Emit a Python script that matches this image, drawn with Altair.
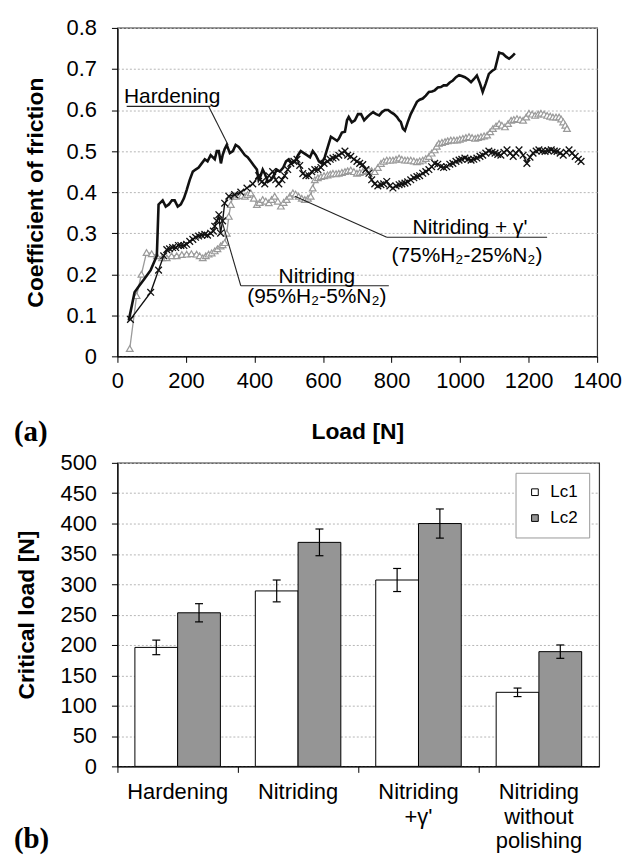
import altair as alt
import pandas as pd

# ---------------- (a) coefficient of friction vs load ----------------
hard_load = [33, 50, 62, 80, 97, 115, 120, 132, 141, 150, 159, 167, 176, 185, 194, 202, 211, 220, 228, 237,
             246, 255, 263, 272, 284, 290, 296, 302, 307, 313, 319, 328, 337, 345, 354, 363, 372, 380, 389, 398,
             407, 412, 418, 424, 430, 439, 448, 456, 465, 474, 484, 492, 500, 509, 518, 527, 535, 544, 553, 562,
             570, 579, 588, 596, 605, 614, 623, 632, 641, 646, 655, 664, 670, 675, 684, 693, 702, 711, 720, 729,
             738, 746, 755, 764, 772, 781, 790, 798, 807, 816, 822, 827, 833, 839, 847, 856, 865, 874, 882, 891,
             900, 909, 918, 926, 935, 944, 952, 961, 970, 979, 988, 997, 1005, 1014, 1023, 1032, 1040, 1049, 1058, 1066,
             1075, 1084, 1093, 1102, 1108, 1114, 1120, 1125, 1134, 1143, 1151, 1160]
hard_cof = [.087, .156, .17, .19, .21, .245, .37, .38, .365, .37, .38, .38, .365, .37, .385, .405, .43, .45, .455, .46,
            .47, .48, .475, .49, .48, .5, .5, .47, .49, .505, .515, .495, .5, .515, .51, .5, .49, .485, .475, .465,
            .455, .43, .44, .455, .445, .425, .43, .44, .455, .45, .46, .475, .48, .47, .475, .49, .5, .495, .49, .485,
            .5, .49, .475, .47, .485, .51, .535, .53, .525, .53, .545, .547, .575, .583, .57, .575, .59, .59, .575, .583,
            .59, .595, .59, .587, .595, .6, .6, .595, .59, .583, .575, .571, .555, .55, .57, .59, .605, .62, .625, .628,
            .635, .644, .645, .648, .655, .656, .66, .66, .667, .672, .68, .685, .683, .68, .675, .668, .675, .684, .665, .644,
            .665, .688, .695, .7, .72, .74, .738, .737, .73, .725, .73, .738]

nit_load = [38, 97, 120, 135, 144, 152, 161, 170, 178, 185, 194, 202, 211, 220, 228, 237, 246, 255, 263, 272,
            280, 284, 290, 296, 301, 307, 313, 325, 342, 360, 378, 395, 412, 421, 430, 442, 453, 462, 471, 480,
            488, 497, 506, 515, 524, 532, 541, 550, 559, 567, 576, 585, 594, 603, 613, 621, 629, 638, 646, 655,
            664, 672, 681, 690, 699, 707, 716, 725, 734, 742, 751, 760, 769, 777, 786, 795, 804, 813, 822, 830,
            839, 847, 856, 865, 874, 882, 891, 900, 909, 917, 926, 935, 944, 952, 961, 970, 979, 988, 997, 1005,
            1014, 1023, 1032, 1040, 1049, 1058, 1066, 1075, 1084, 1093, 1102, 1110, 1119, 1128, 1137, 1146, 1155, 1163, 1172, 1184,
            1195, 1204, 1213, 1222, 1230, 1239, 1248, 1257, 1266, 1275, 1283, 1292, 1301, 1310, 1318, 1327, 1336, 1345, 1353]
nit_cof = [.09, .156, .21, .245, .26, .262, .265, .265, .27, .27, .27, .273, .28, .285, .29, .293, .295, .297, .295, .3,
           .305, .317, .33, .345, .3, .33, .373, .39, .394, .4, .41, .42, .44, .425, .42, .44, .45, .43, .42, .43,
           .44, .455, .47, .475, .48, .465, .445, .44, .44, .45, .455, .455, .46, .47, .475, .48, .483, .485, .49, .495,
           .5, .49, .487, .48, .475, .47, .467, .455, .446, .43, .42, .415, .418, .42, .426, .415, .41, .415, .418, .42,
           .422, .425, .43, .435, .438, .44, .446, .45, .455, .462, .47, .468, .462, .46, .462, .468, .47, .475, .478, .48,
           .483, .48, .478, .48, .483, .487, .49, .495, .5, .497, .495, .492, .49, .497, .503, .495, .487, .495, .503, .49,
           .47, .485, .495, .5, .503, .5, .499, .501, .503, .5, .499, .495, .49, .497, .503, .495, .487, .48, .475]

gam_load = [36, 56, 70, 85, 100, 115, 130, 144, 158, 173, 188, 202, 216, 231, 240, 249, 258, 266, 275, 284,
            292, 301, 307, 313, 319, 325, 331, 337, 346, 354, 363, 372, 380, 389, 398, 407, 415, 424, 433, 442,
            450, 459, 468, 477, 485, 494, 503, 512, 520, 529, 538, 547, 556, 564, 570, 576, 585, 594, 603, 613,
            621, 629, 638, 646, 655, 664, 672, 681, 690, 699, 707, 716, 725, 734, 742, 751, 760, 769, 777, 786,
            795, 804, 813, 822, 830, 839, 847, 856, 865, 874, 882, 891, 900, 909, 917, 926, 932, 938, 947, 956,
            964, 973, 982, 991, 999, 1008, 1017, 1026, 1035, 1044, 1052, 1061, 1070, 1079, 1088, 1096, 1105, 1114, 1122, 1131,
            1140, 1149, 1157, 1166, 1175, 1184, 1193, 1201, 1210, 1219, 1228, 1236, 1245, 1254, 1263, 1271, 1280, 1289, 1295, 1301,
            1307, 1312]
gam_cof = [.019, .148, .2, .253, .25, .245, .24, .24, .245, .245, .248, .249, .25, .249, .245, .24, .245, .249, .252, .257,
           .262, .269, .272, .277, .3, .341, .37, .39, .39, .394, .392, .39, .394, .398, .385, .37, .375, .382, .378, .374,
           .382, .39, .378, .366, .375, .382, .39, .398, .395, .39, .385, .382, .385, .39, .41, .43, .435, .438, .44, .442,
           .444, .446, .445, .446, .448, .45, .452, .454, .45, .446, .448, .45, .452, .454, .452, .45, .46, .47, .475, .478,
           .478, .478, .48, .483, .48, .478, .478, .478, .476, .474, .476, .478, .482, .487, .495, .503, .512, .519, .521, .523,
           .525, .527, .527, .527, .529, .531, .533, .535, .533, .531, .533, .535, .537, .539, .547, .555, .561, .567, .563, .559,
           .567, .575, .577, .579, .577, .575, .583, .592, .59, .587, .59, .592, .59, .587, .585, .583, .583, .583, .578, .571,
           .563, .555]

# annotation texts (load, cof) and leader / underline segments
ann_text = ["Hardening", "Nitriding + \u03b3'", "(75%H\u2082-25%N\u2082)", "Nitriding", "(95%H\u2082-5%N\u2082)"]
ann_x = [19, 1029, 1020, 582, 582]
ann_y = [0.616, 0.297, 0.245, 0.178, 0.144]
ann_align = ["left", "center", "center", "center", "center"]
ann_base = ["alphabetic", "alphabetic", "middle", "alphabetic", "middle"]

seg_x1 = [27, 266, 786, 786, 360, 360]
seg_y1 = [0.609, 0.609, 0.29, 0.29, 0.172, 0.172]
seg_x2 = [272, 323, 1254, 518, 792, 301]
seg_y2 = [0.609, 0.515, 0.29, 0.39, 0.172, 0.341]

# ---------------- (b) critical loads ----------------
treatments = ["Hardening", "Nitriding", "Nitriding +\u03b3'", "Nitriding without polishing"]
lc1 = [196, 289, 307, 122]
lc1_err = [12, 18, 19, 7]
lc2 = [253, 369, 400, 189]
lc2_err = [15, 22, 24, 11]
load_ticks = [0, 50, 100, 150, 200, 250, 300, 350, 400, 450, 500]

FONT = "Liberation Sans"

curves = pd.concat([
    pd.DataFrame({"load": hard_load, "cof": hard_cof, "series": "Hardening"}),
    pd.DataFrame({"load": nit_load, "cof": nit_cof, "series": "Nitriding"}),
    pd.DataFrame({"load": gam_load, "cof": gam_cof, "series": "Nitriding + gamma"}),
], ignore_index=True)

ann_df = pd.DataFrame({"x": ann_x, "y": ann_y, "t": ann_text, "a": ann_align, "b": ann_base})
seg_df = pd.DataFrame({"x1": seg_x1, "y1": seg_y1, "x2": seg_x2, "y2": seg_y2})

xs = alt.Scale(domain=[0, 1400], nice=False)
ys = alt.Scale(domain=[0, 0.8], nice=False)

X = alt.X("load:Q", scale=xs, axis=alt.Axis(
    values=list(range(0, 1401, 200)), format="d", title="Load [N]", grid=False,
    labelPadding=8, titlePadding=30, labelOverlap=False, labelFlush=False))
Y = alt.Y("cof:Q", scale=ys, axis=alt.Axis(
    values=[0, 0.1, 0.2, 0.3, 0.4, 0.5, 0.6, 0.7, 0.8], format=".1~f",
    title="Coefficient of friction", grid=True, labelPadding=15, titlePadding=19,
    labelOverlap=False, labelFlush=False))

base = alt.Chart(curves)
gam_line = base.transform_filter("datum.series == 'Nitriding + gamma'").mark_line(
    color="#9a9a9a", strokeWidth=1.3).encode(x=X, y=Y)
gam_pts = base.transform_filter("datum.series == 'Nitriding + gamma'").mark_point(
    shape="triangle-up", filled=True, fill="white", stroke="#9a9a9a", strokeWidth=1.2,
    size=45, opacity=1).encode(x="load:Q", y="cof:Q")
nit_line = base.transform_filter("datum.series == 'Nitriding'").mark_line(
    color="#111111", strokeWidth=1.4).encode(x="load:Q", y="cof:Q")
nit_pts = base.transform_filter("datum.series == 'Nitriding'").mark_point(
    shape="M -1 -1 L 1 1 M -1 1 L 1 -1", filled=False, stroke="#111111", strokeWidth=1.3,
    size=45, opacity=1).encode(x="load:Q", y="cof:Q")
hard_line = base.transform_filter("datum.series == 'Hardening'").mark_line(
    color="#111111", strokeWidth=2.6).encode(x="load:Q", y="cof:Q")

segs = alt.Chart(seg_df).mark_rule(color="#222222", strokeWidth=1.1).encode(
    x="x1:Q", y="y1:Q", x2="x2:Q", y2="y2:Q")

ann_layers = []
for i in range(len(ann_text)):
    ann_layers.append(
        alt.Chart(ann_df.iloc[[i]]).mark_text(
            font=FONT, fontSize=21, color="black", align=ann_align[i], baseline=ann_base[i]
        ).encode(x="x:Q", y="y:Q", text="t:N")
    )

label_a = alt.Chart(pd.DataFrame({"t": ["(a)"]})).mark_text(
    font="Liberation Serif", fontWeight="bold", fontSize=29, align="left", baseline="middle"
).encode(x=alt.value(-104), y=alt.value(406), text="t:N")

top = alt.layer(gam_line, gam_pts, nit_line, nit_pts, hard_line, segs, *ann_layers, label_a).properties(
    width=482, height=330)

# ---------------- bottom chart ----------------
rows = []
for i, t in enumerate(treatments):
    rows.append({"treatment": t, "series": "Lc1", "value": lc1[i], "low": lc1[i] - lc1_err[i], "high": lc1[i] + lc1_err[i]})
    rows.append({"treatment": t, "series": "Lc2", "value": lc2[i], "low": lc2[i] - lc2_err[i], "high": lc2[i] + lc2_err[i]})
bars_df = pd.DataFrame(rows)

xb = alt.X("treatment:N", sort=treatments,
           scale=alt.Scale(paddingInner=0.29, paddingOuter=0.145),
           axis=alt.Axis(title=None, labelAngle=0, labelExpr="split(datum.label, ' ')",
                         labelLineHeight=25, labelBaseline="top", labelPadding=9,
                         bandPosition=-0.2035, grid=False))
xo = alt.XOffset("series:N", sort=["Lc1", "Lc2"], scale=alt.Scale(paddingInner=0, paddingOuter=0))
ybs = alt.Scale(domain=[0, 500], nice=False)
ybax = alt.Axis(values=load_ticks, title="Critical load [N]", grid=True, tickCount=11,
                labelPadding=15, titlePadding=22, labelOverlap=False, labelFlush=False)

bb = alt.Chart(bars_df)
bars = bb.mark_bar(stroke="black", strokeWidth=1).encode(
    x=xb, xOffset=xo, y=alt.Y("value:Q", scale=ybs, axis=ybax),
    color=alt.Color("series:N", scale=alt.Scale(domain=["Lc1", "Lc2"], range=["#ffffff", "#959595"]),
                    legend=alt.Legend(title=None, orient="top-right", offset=10, strokeColor="#999999",
                                      fillColor="white", padding=11, symbolType="square", symbolSize=45,
                                      symbolStrokeColor="black", symbolStrokeWidth=1, labelFontSize=17,
                                      labelFont=FONT, rowPadding=8, labelOffset=7)))
err = bb.mark_rule(color="black", strokeWidth=1.2).encode(
    x=xb, xOffset=xo, y=alt.Y("low:Q", scale=ybs, axis=ybax), y2="high:Q")
cap_lo = bb.mark_tick(color="black", thickness=1.2, size=8, opacity=1).encode(
    x=xb, xOffset=xo, y=alt.Y("low:Q", scale=ybs, axis=ybax))
cap_hi = bb.mark_tick(color="black", thickness=1.2, size=8, opacity=1).encode(
    x=xb, xOffset=xo, y=alt.Y("high:Q", scale=ybs, axis=ybax))

label_b = alt.Chart(pd.DataFrame({"t": ["(b)"]})).mark_text(
    font="Liberation Serif", fontWeight="bold", fontSize=29, align="left", baseline="middle"
).encode(x=alt.value(-104), y=alt.value(378), text="t:N")

bottom = alt.layer(bars, err, cap_lo, cap_hi, label_b).properties(width=484, height=305)

chart = alt.vconcat(top, bottom, spacing=3).resolve_legend(color="independent").properties(
    padding={"left": 13, "top": 14, "right": 4, "bottom": 0}
).configure(font=FONT).configure_axis(
    labelFont=FONT, labelFontSize=22, labelColor="black", labelOverlap=False, labelFlush=False,
    titleFont=FONT, titleFontSize=23, titleFontWeight="bold", titleColor="black",
    domainColor="black", domainWidth=1.2, tickColor="black", tickSize=6, tickWidth=1,
    gridColor="#b5b5b5", gridDash=[2, 2], gridWidth=1
).configure_view(stroke="#333333", strokeWidth=1.2)

chart.save("out.html", embed_options={"renderer": "svg", "actions": False})
